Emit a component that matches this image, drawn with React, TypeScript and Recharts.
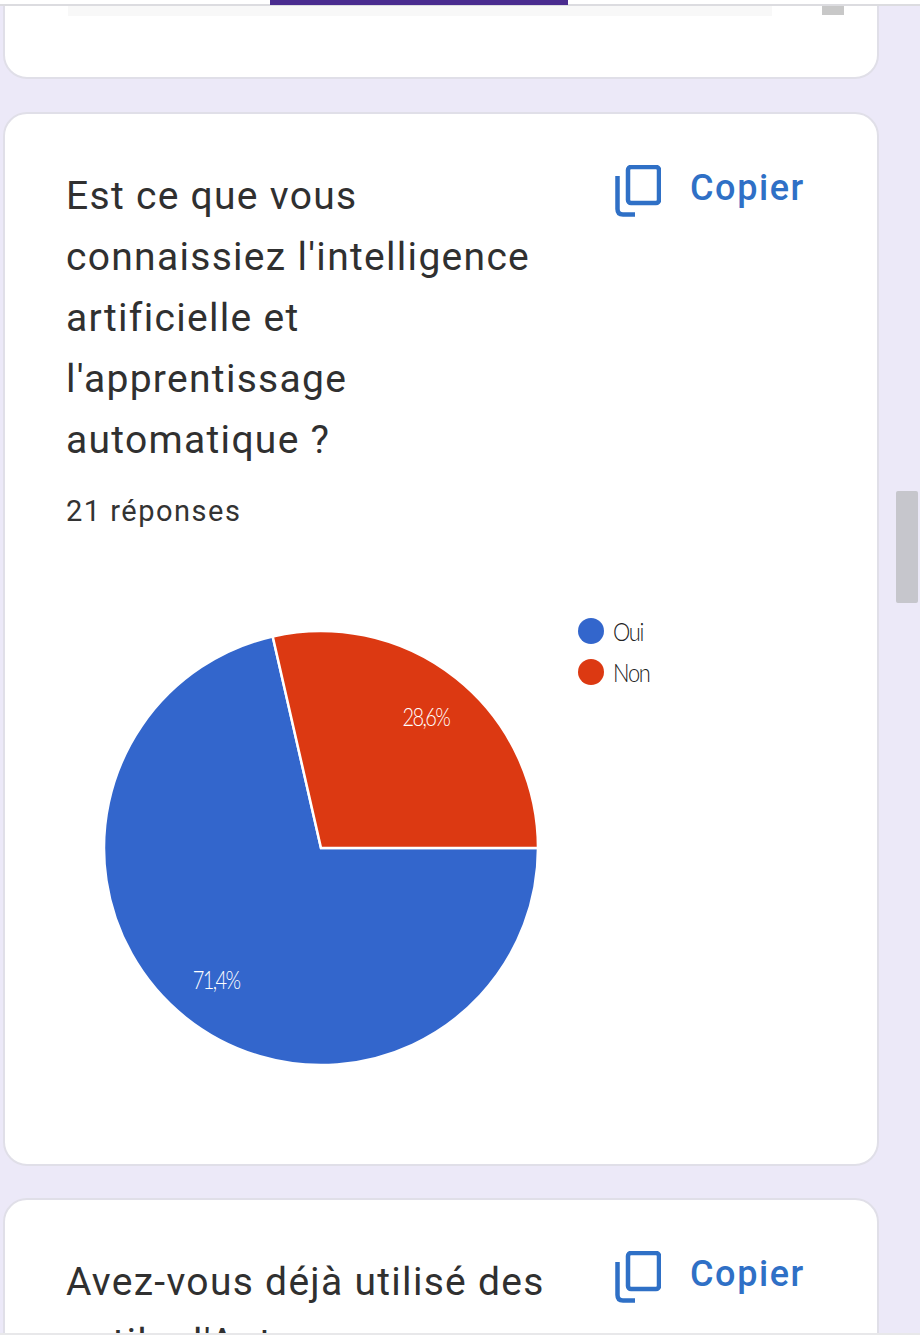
import { Legend, Pie, PieChart } from "recharts";

const answers = ["Oui", "Non"];
const counts = [15, 6];
const percentLabels = ["71,4%", "28,6%"];
const sliceColors = ["#3366cc", "#dc3912"];
const questionLines = [
  "Est ce que vous",
  "connaissiez l'intelligence",
  "artificielle et",
  "l'apprentissage",
  "automatique ?",
];
const responseCount = "21 réponses";
const nextQuestionLines = ["Avez-vous déjà utilisé des", "outils d'Auto"];

const chartData = answers.map((name, i) => ({
  name,
  value: counts[i],
  fill: sliceColors[i],
  label: percentLabels[i],
}));

const RAD = Math.PI / 180;
const total = counts.reduce((a, b) => a + b, 0);
// the red slice has to finish at 3 o'clock, going counter-clockwise
const startAngle = (360 * counts[1]) / total;

const font = "Roboto, sans-serif";
const textColor = "#303030";
const blue = "#2f70c6";

function renderPercent(props: any) {
  const r = props.outerRadius * 0.775;
  const x = props.cx + r * Math.cos(-props.midAngle * RAD);
  const y = props.cy + r * Math.sin(-props.midAngle * RAD);
  return (
    <text
      transform={`translate(${x} ${y}) scale(0.8 1)`}
      fill="#ffffff"
      textAnchor="middle"
      dominantBaseline="central"
      style={{ fontFamily: "Lato, sans-serif", fontSize: 25, fontWeight: 300, letterSpacing: -2 }}
    >
      {props.payload.label}
    </text>
  );
}

function renderLegend({ payload }: any) {
  return (
    <div>
      {(payload || []).map((entry: any) => (
        <div key={entry.value} style={{ display: "flex", alignItems: "center", height: 41 }}>
          <span
            style={{
              width: 26,
              height: 26,
              borderRadius: 13,
              background: entry.color,
              marginRight: 9,
            }}
          />
          <span
            style={{
              display: "inline-block",
              fontFamily: "Lato, sans-serif",
              fontWeight: 300,
              fontSize: 26,
              letterSpacing: -1.5,
              color: "#222",
              transform: "scaleX(0.84)",
              transformOrigin: "left center",
            }}
          >
            {entry.value}
          </span>
        </div>
      ))}
    </div>
  );
}

function Card({ top, height }: { top: number; height: number }) {
  return (
    <div
      style={{
        position: "absolute",
        left: 3,
        top,
        width: 876,
        height,
        boxSizing: "border-box",
        background: "#ffffff",
        border: "2px solid #e0dfe8",
        borderRadius: 24,
      }}
    />
  );
}

function CopyButton({ top }: { top: number }) {
  return (
    <>
      <svg
        width={46}
        height={52}
        viewBox="0 0 46 52"
        style={{ position: "absolute", left: 615, top }}
      >
        <rect x={13} y={2} width={31} height={36} rx={3} fill="none" stroke={blue} strokeWidth={4.5} />
        <path d="M2.5 11 V44 Q2.5 49.5 8 49.5 H20" fill="none" stroke={blue} strokeWidth={4.5} />
      </svg>
      <div
        style={{
          position: "absolute",
          left: 690,
          top: top + 3,
          fontFamily: font,
          fontWeight: 500,
          fontSize: 36,
          letterSpacing: 1.6,
          lineHeight: "40px",
          color: blue,
        }}
      >
        Copier
      </div>
    </>
  );
}

export default function App() {
  return (
    <div
      style={{
        position: "absolute",
        left: 0,
        top: 0,
        width: 920,
        height: 1335,
        overflow: "hidden",
        background: "#ece9f8",
      }}
    >
      <Card top={-40} height={119} />
      <Card top={112} height={1054} />
      <Card top={1198} height={200} />

      {/* top of the page, cut off by the screenshot */}
      <div style={{ position: "absolute", left: 0, top: 0, width: 920, height: 4, background: "#ffffff" }} />
      <div style={{ position: "absolute", left: 0, top: 4, width: 920, height: 2, background: "#dcdce0" }} />
      <div style={{ position: "absolute", left: 270, top: 0, width: 298, height: 5, background: "#4a2c8f" }} />
      <div style={{ position: "absolute", left: 68, top: 6, width: 704, height: 10, background: "#f8f8f8" }} />
      <div style={{ position: "absolute", left: 822, top: 6, width: 22, height: 9, background: "#c8c8c8" }} />

      {/* scrollbar */}
      <div style={{ position: "absolute", left: 896, top: 491, width: 22, height: 112, background: "#c6c6cc", borderRadius: 2 }} />

      {questionLines.map((line, i) => (
        <div
          key={line}
          style={{
            position: "absolute",
            left: 66,
            top: 166 + i * 61,
            fontFamily: font,
            fontSize: 39,
            letterSpacing: 1.3,
            lineHeight: "61px",
            color: textColor,
            whiteSpace: "nowrap",
          }}
        >
          {line}
        </div>
      ))}
      <div
        style={{
          position: "absolute",
          left: 66,
          top: 492,
          fontFamily: font,
          fontSize: 29,
          lineHeight: "38px",
          color: "#333333",
          letterSpacing: 1.5,
        }}
      >
        {responseCount}
      </div>
      <CopyButton top={165} />

      <div style={{ position: "absolute", left: 0, top: 560 }}>
        <PieChart width={880} height={580} margin={{ top: 0, right: 0, bottom: 0, left: 0 }}>
          <Pie
            data={chartData}
            dataKey="value"
            nameKey="name"
            cx={321}
            cy={288}
            innerRadius={0}
            outerRadius={217}
            startAngle={startAngle}
            endAngle={startAngle + 360}
            stroke="#ffffff"
            strokeWidth={2.5}
            label={renderPercent}
            labelLine={false}
            isAnimationActive={false}
          />
          <Legend
            layout="vertical"
            align="center"
            verticalAlign="middle"
            itemSorter={null}
            content={renderLegend}
            wrapperStyle={{ left: 578, top: 50, width: 120 }}
          />
        </PieChart>
      </div>

      {nextQuestionLines.map((line, i) => (
        <div
          key={line}
          style={{
            position: "absolute",
            left: 66,
            top: 1252 + i * 61,
            fontFamily: font,
            fontSize: 39,
            letterSpacing: 1.3,
            lineHeight: "61px",
            color: textColor,
            whiteSpace: "nowrap",
          }}
        >
          {line}
        </div>
      ))}
      <CopyButton top={1251} />

      <div style={{ position: "absolute", left: 0, top: 1333, width: 920, height: 2, background: "#e8e8ea" }} />
    </div>
  );
}
